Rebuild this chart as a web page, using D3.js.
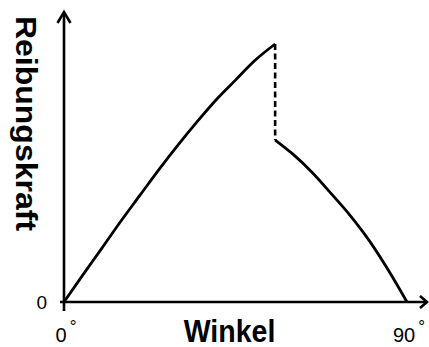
<!DOCTYPE html>
<html>
<head>
<meta charset="utf-8">
<script src="https://cdn.jsdelivr.net/npm/d3@7"></script>
<style>
  body { margin: 0; background: #fff; }
  svg { display: block; }
  text { font-family: "Liberation Sans", Arial, sans-serif; fill: #000; }
</style>
</head>
<body>
<div id="chart"></div>
<script>
//svg size
var svgWidth = 429;
var svgHeight = 347;

//data (angle in degrees, force in % of the peak)
var riseAngle = [0, 5, 10, 15, 20, 25, 30, 35, 40, 45, 50, 55.4];
var riseForce = [0, 10.6, 21, 31.5, 41.5, 51.5, 61, 70, 78.5, 86, 93.5, 100];
var fallAngle = [55.4, 60, 65, 70, 75, 80, 85, 90];
var fallForce = [62.8, 57.4, 50.4, 42.2, 33.7, 24, 12.6, 0];
var xTicks = ["0", "90"];
var yTicks = ["0"];

var svg = d3.select("#chart")
    .append("svg")
    .attr("width", svgWidth)
    .attr("height", svgHeight);

svg.append("rect")
    .attr("width", svgWidth)
    .attr("height", svgHeight)
    .attr("fill", "#fff");

//scales
var xScale = d3.scaleLinear()
    .domain([0, 90])
    .range([64, 407]);
var yScale = d3.scaleLinear()
    .domain([0, 100])
    .range([302, 44]);

var x0 = xScale(0);
var y0 = yScale(0);

//axes with arrows
var axisGroup = svg.append("g")
    .attr("stroke", "#000")
    .attr("stroke-width", 2.6)
    .attr("fill", "none");

axisGroup.append("line")
    .attr("x1", x0).attr("y1", y0 + 9)
    .attr("x2", x0).attr("y2", 12);
axisGroup.append("path")
    .attr("d", `M${x0 - 6.5},23 L${x0},12 L${x0 + 6.5},23`);

axisGroup.append("line")
    .attr("x1", x0 - 4).attr("y1", y0)
    .attr("x2", 427).attr("y2", y0);
axisGroup.append("path")
    .attr("d", `M420,${y0 - 6} L427,${y0} L420,${y0 + 6}`);

//curves
var line = d3.line()
    .x(d => xScale(d[0]))
    .y(d => yScale(d[1]))
    .curve(d3.curveMonotoneX);

var rise = riseAngle.map((a, i) => [a, riseForce[i]]);
var fall = fallAngle.map((a, i) => [a, fallForce[i]]);

svg.append("path")
    .datum(rise)
    .attr("d", line)
    .attr("fill", "none")
    .attr("stroke", "#000")
    .attr("stroke-width", 2.8);

svg.append("path")
    .datum(fall)
    .attr("d", line)
    .attr("fill", "none")
    .attr("stroke", "#000")
    .attr("stroke-width", 2.8);

//dashed drop at the critical angle
var peak = rise[rise.length - 1];
svg.append("line")
    .attr("x1", xScale(peak[0])).attr("y1", yScale(peak[1]))
    .attr("x2", xScale(fall[0][0])).attr("y2", yScale(fall[0][1]))
    .attr("stroke", "#000")
    .attr("stroke-width", 2.6)
    .attr("stroke-dasharray", "6,3.5");

//tick labels
svg.selectAll(".ytick")
    .data(yTicks)
    .enter()
    .append("text")
    .attr("class", "ytick")
    .attr("x", x0 - 17)
    .attr("y", d => yScale(+d))
    .attr("dy", "0.35em")
    .attr("text-anchor", "end")
    .attr("font-size", 19)
    .text(d => d);

var xt = svg.selectAll(".xtick")
    .data(xTicks)
    .enter()
    .append("text")
    .attr("class", "xtick")
    .attr("x", d => xScale(+d) + 2)
    .attr("y", 342)
    .attr("text-anchor", "middle")
    .attr("font-size", 20);
xt.append("tspan").text(d => d);
xt.append("tspan")
    .attr("dx", 3)
    .attr("dy", -10)
    .attr("font-size", 17)
    .text("°");

//axis titles
svg.append("text")
    .attr("transform", "translate(229.5,342) scale(0.92,1)")
    .attr("text-anchor", "middle")
    .attr("font-size", 31)
    .attr("font-weight", "bold")
    .text("Winkel");

svg.append("text")
    .attr("transform", "translate(16,123.5) scale(0.92,1) rotate(90)")
    .attr("text-anchor", "middle")
    .attr("font-size", 32)
    .attr("font-weight", "bold")
    .text("Reibungskraft");
</script>
</body>
</html>
